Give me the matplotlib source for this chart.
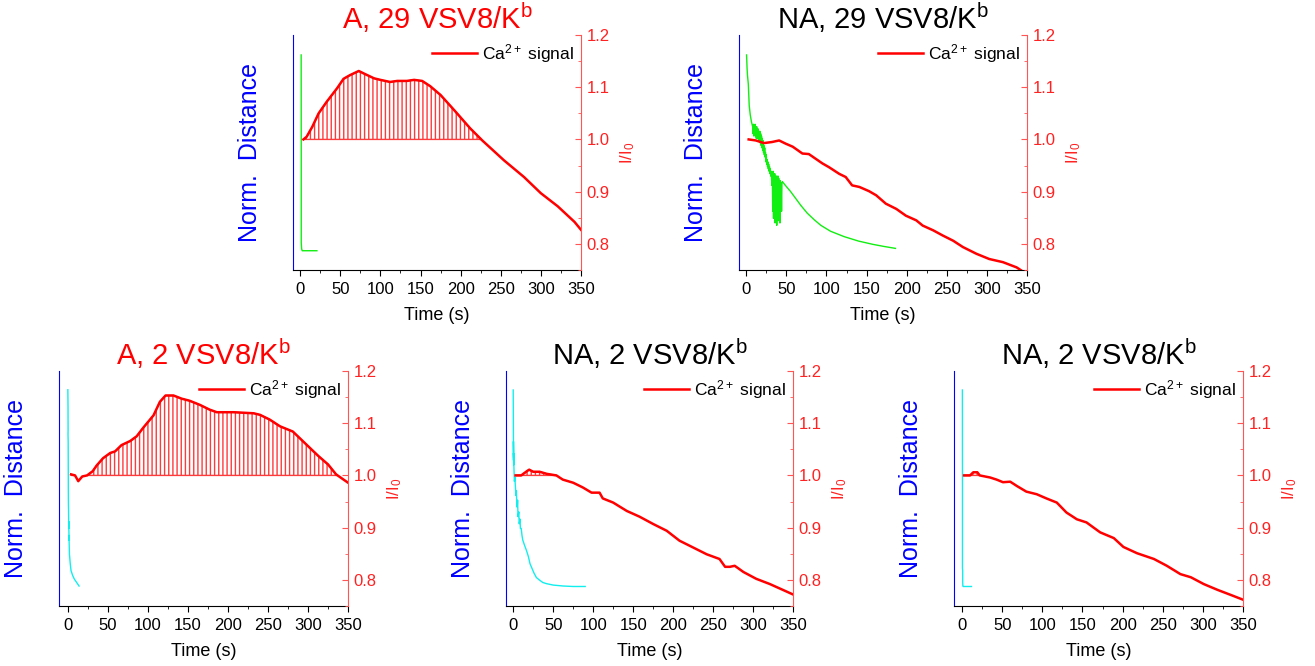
import numpy as np
import matplotlib
matplotlib.use("Agg")
import matplotlib.pyplot as plt
from matplotlib.ticker import MultipleLocator, FormatStrFormatter

plt.rcParams['font.family'] = ['Liberation Sans', 'DejaVu Sans']
plt.rcParams['mathtext.fontset'] = 'custom'
plt.rcParams['mathtext.rm'] = 'Liberation Sans'
plt.rcParams['mathtext.it'] = 'Liberation Sans:italic'
plt.rcParams['hatch.linewidth'] = 1.0

# ---- A, 29 VSV8/Kb
t_ca_a29 = [4, 8, 15, 23, 33, 46, 54, 62, 73, 81, 92, 100, 112, 121, 133, 142, 152,
            162, 175, 192, 212, 227, 254, 279, 300, 321, 342, 350]
ca_a29 = [1.0, 1.005, 1.024, 1.05, 1.072, 1.098, 1.116, 1.123, 1.131, 1.125, 1.117,
          1.114, 1.11, 1.112, 1.112, 1.114, 1.112, 1.102, 1.085, 1.056, 1.021, 0.998,
          0.96, 0.928, 0.897, 0.872, 0.842, 0.827]
t_d_a29 = [1.2, 1.3, 1.3, 1.8, 2.5, 20.8]
d_a29 = [0.915, 0.5, 0.116, 0.09, 0.082, 0.082]

# ---- NA, 29 VSV8/Kb
t_ca_na29 = [3, 12, 22, 32, 41, 49, 58, 70, 78, 95, 103, 116, 124, 132, 141, 153, 162,
             174, 187, 199, 212, 220, 233, 245, 258, 270, 287, 303, 320, 337, 343]
ca_na29 = [1.0, 0.998, 0.993, 0.995, 0.998, 0.992, 0.986, 0.973, 0.972, 0.954, 0.947,
           0.934, 0.928, 0.912, 0.909, 0.901, 0.893, 0.877, 0.867, 0.854, 0.845, 0.835,
           0.826, 0.816, 0.806, 0.794, 0.781, 0.771, 0.765, 0.755, 0.749]
t_d_na29 = [0.4, 1, 1.5, 2.6, 3.7, 5, 6.5, 8,
            8.5, 9, 9.5, 10, 10.5, 11, 11.5, 12, 12.5, 13, 13.5, 14, 14.5, 15, 15.5, 16,
            16.5, 17, 17.5, 18, 18.5, 19, 19.5, 20, 20.5, 21, 21.5, 22,
            22.5, 23, 23.5, 24, 24.5, 25, 25.5, 26, 26.5, 27, 27.5, 28, 28.5, 29, 29.5,
            30, 30.5, 31,
            32, 32.5, 33, 33.5, 34, 34.5, 35, 35.5, 36, 36.5, 37, 37.5, 38, 38.5, 39,
            39.5, 40, 40.5, 41, 41.5, 42, 42.5, 43, 43.5, 44, 44.5, 45,
            50, 55, 60, 68, 76, 85, 93, 105, 122, 140, 158, 172, 186]
d_na29 = [0.915, 0.86, 0.83, 0.79, 0.70, 0.66, 0.63, 0.61,
          0.58, 0.62, 0.57, 0.61, 0.58, 0.62, 0.57, 0.60, 0.56, 0.61, 0.57, 0.60, 0.56,
          0.60, 0.55, 0.59, 0.55, 0.59, 0.54, 0.58, 0.53, 0.57, 0.52, 0.56, 0.51, 0.55,
          0.50, 0.53,
          0.49, 0.52, 0.48, 0.50, 0.46, 0.49, 0.45, 0.47, 0.44, 0.46, 0.43, 0.45, 0.42,
          0.44, 0.41, 0.43, 0.40, 0.42,
          0.36, 0.41, 0.25, 0.42, 0.22, 0.40, 0.30, 0.41, 0.20, 0.39, 0.24, 0.40, 0.19,
          0.38, 0.28, 0.40, 0.21, 0.39, 0.26, 0.38, 0.20, 0.38, 0.30, 0.37, 0.25, 0.37,
          0.376,
          0.355, 0.335, 0.312, 0.275, 0.242, 0.213, 0.19, 0.165, 0.142, 0.123, 0.109,
          0.100, 0.092]

# ---- A, 2 VSV8/Kb
t_ca_a2 = [4, 9, 13, 18, 24, 31, 36, 44, 53, 59, 67, 78, 86, 94, 107, 115, 122, 132,
           142, 152, 165, 177, 186, 207, 232, 240, 252, 265, 281, 298, 313, 325, 335, 350]
ca_a2 = [1.002, 1.0, 0.989, 0.998, 1.0, 1.008, 1.019, 1.033, 1.043, 1.046, 1.058,
         1.066, 1.075, 1.091, 1.115, 1.141, 1.153, 1.153, 1.147, 1.143, 1.135, 1.126,
         1.121, 1.121, 1.119, 1.116, 1.107, 1.094, 1.084, 1.059, 1.037, 1.021, 1.002,
         0.986]
t_d_a2 = [0, 0.2, 0.3, 0.2, 0.4, 0.5, 0.6, 0.7, 0.9, 1.2, 1.0, 1.6, 1.4, 2, 2.5, 3,
          4, 5, 6, 8, 10, 12, 14]
d_a2 = [0.92, 0.85, 0.75, 0.73, 0.70, 0.60, 0.50, 0.44, 0.40, 0.33, 0.36, 0.28, 0.30,
        0.22, 0.20, 0.18, 0.15, 0.14, 0.13, 0.115, 0.105, 0.095, 0.085]

# ---- NA, 2 VSV8/Kb (first)
t_ca_na2a = [3, 10, 17, 20, 25, 33, 42, 54, 62, 75, 87, 98, 108, 112, 125, 142, 158,
             175, 192, 208, 225, 242, 258, 265, 271, 277, 288, 304, 321, 337, 350]
ca_na2a = [1.0, 1.0, 1.008, 1.011, 1.007, 1.007, 1.003, 1.0, 0.992, 0.986, 0.977,
           0.967, 0.967, 0.956, 0.948, 0.932, 0.921, 0.907, 0.894, 0.875, 0.862, 0.849,
           0.840, 0.825, 0.825, 0.827, 0.815, 0.802, 0.792, 0.781, 0.772]
t_d_na2a = [0, 0.4, 0.3, 0.6, 0.4, 1, 1.5, 2.1, 2.5, 3.5, 4, 4.2, 5, 5.5, 6, 7, 7.5,
            8.5, 9, 10, 11, 12, 14, 16.7, 19, 21, 23, 26, 29, 33, 37, 41.7, 50, 62.5,
            75, 90]
d_na2a = [0.919, 0.62, 0.70, 0.60, 0.65, 0.58, 0.53, 0.548, 0.52, 0.47, 0.49, 0.463,
          0.42, 0.45, 0.38, 0.40, 0.35, 0.37, 0.33, 0.33, 0.30, 0.28, 0.26, 0.235,
          0.21, 0.18, 0.164, 0.14, 0.121, 0.11, 0.10, 0.095, 0.089, 0.085, 0.083, 0.083]

# ---- NA, 2 VSV8/Kb (second)
t_ca_na2b = [2.5, 10, 14, 19, 22, 35, 43, 51, 60, 68, 80, 93, 105, 118, 130, 143, 155,
             172, 189, 201, 218, 239, 255, 272, 285, 301, 318, 335, 350]
ca_na2b = [1.0, 1.0, 1.006, 1.006, 1.0, 0.996, 0.992, 0.987, 0.988, 0.98, 0.969,
           0.964, 0.956, 0.948, 0.929, 0.916, 0.91, 0.891, 0.88, 0.863, 0.851, 0.84,
           0.827, 0.811, 0.805, 0.792, 0.781, 0.771, 0.762]
t_d_na2b = [0.4, 0.5, 0.5, 0.8, 0.8, 1, 1.3, 11.7]
d_na2b = [0.919, 0.50, 0.16, 0.15, 0.10, 0.085, 0.083, 0.083]

titles = ['A, 29 VSV8/K$^{\\mathrm{b}}$', 'NA, 29 VSV8/K$^{\\mathrm{b}}$',
          'A, 2 VSV8/K$^{\\mathrm{b}}$', 'NA, 2 VSV8/K$^{\\mathrm{b}}$',
          'NA, 2 VSV8/K$^{\\mathrm{b}}$']
title_colors = ['red', 'black', 'red', 'black', 'black']

fig = plt.figure(figsize=(13.15, 6.66), dpi=100)

rects = [[0.2228, 0.5946, 0.2190, 0.3529],
         [0.5620, 0.5946, 0.2190, 0.3529],
         [0.0449, 0.0901, 0.2198, 0.3529],
         [0.3848, 0.0901, 0.2183, 0.3529],
         [0.7255, 0.0901, 0.2198, 0.3529]]
xmins = [-9, -9, -11, -9, -10]
dist_colors = ['#11ee11', '#11ee11', '#11eeee', '#11eeee', '#11eeee']
series = [(t_d_a29, d_a29, t_ca_a29, ca_a29),
          (t_d_na29, d_na29, t_ca_na29, ca_na29),
          (t_d_a2, d_a2, t_ca_a2, ca_a2),
          (t_d_na2a, d_na2a, t_ca_na2a, ca_na2a),
          (t_d_na2b, d_na2b, t_ca_na2b, ca_na2b)]

for i in range(5):
    td, d, tc, ca = series[i]
    ax = fig.add_axes(rects[i])
    ax2 = ax.twinx()

    ax.plot(td, d, color=dist_colors[i], lw=1.0)
    ax.set_ylim(0, 1)
    ax.set_yticks([])
    ax.set_xlim(xmins[i], 350)
    ax.xaxis.set_major_locator(MultipleLocator(50))
    ax.xaxis.set_minor_locator(MultipleLocator(25))
    ax.tick_params(axis='x', which='major', direction='out', length=4, labelsize=12, pad=5)
    ax.tick_params(axis='x', which='minor', direction='out', length=2.5)
    ax.spines['top'].set_visible(False)
    ax.spines['right'].set_visible(False)
    ax.spines['left'].set_color('blue')
    ax.set_ylabel('Norm.  Distance', color='blue', fontsize=18, labelpad=22)
    ax.set_xlabel('Time (s)', fontsize=13, labelpad=7)
    ax.set_title(titles[i], color=title_colors[i], fontsize=21, pad=3)

    ca = np.array(ca)
    ax2.plot(tc, ca, color='red', lw=1.8, label='Ca$^{2+}$ signal')
    ax2.fill_between(tc, ca, 1.0, where=ca >= 1.0, interpolate=True,
                     facecolor='none', edgecolor='#ff3a3a', hatch='||||', lw=1)
    ax2.set_ylim(0.75, 1.2)
    ax2.yaxis.set_major_locator(MultipleLocator(0.1))
    ax2.yaxis.set_minor_locator(MultipleLocator(0.05))
    ax2.yaxis.set_major_formatter(FormatStrFormatter('%.1f'))
    ax2.tick_params(axis='y', which='major', direction='in', length=4,
                    color='#ff5555', labelcolor='#ff2222', labelsize=12, pad=4)
    ax2.tick_params(axis='y', which='minor', direction='in', length=2.5, color='#ff5555')
    for s in ['top', 'left', 'bottom']:
        ax2.spines[s].set_visible(False)
    ax2.spines['right'].set_color('#ff5555')
    ax2.set_ylabel('I/I$_0$', color='#ff2222', fontsize=12, rotation=90, labelpad=6)
    ax2.legend(loc='upper right', frameon=False, fontsize=12.5, handlelength=2.6,
               handletextpad=0.3, borderaxespad=0.1, borderpad=0.3)

fig.savefig('out.png', dpi=100)
